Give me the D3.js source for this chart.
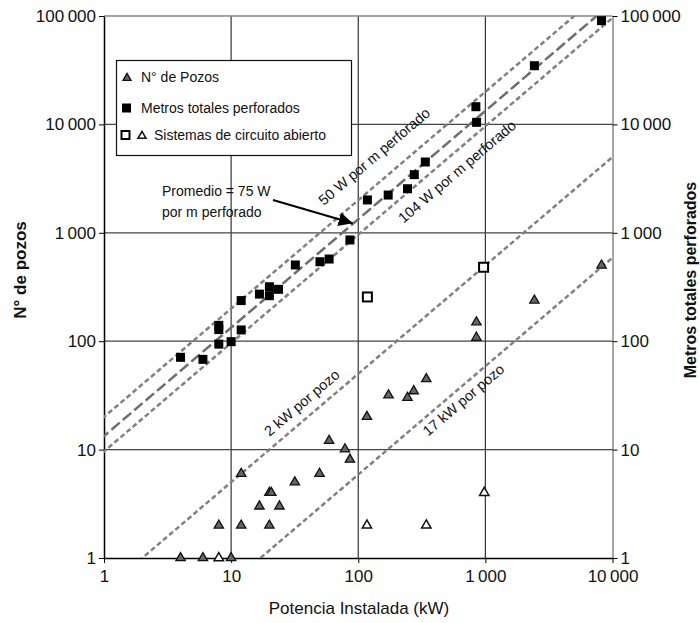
<!DOCTYPE html>
<html>
<head>
<meta charset="utf-8">
<script src="https://cdn.jsdelivr.net/npm/d3@7"></script>
<style>
  body { margin: 0; background: #fff; }
  svg { font-family: Arial, "Liberation Sans", sans-serif; }
</style>
</head>
<body>
<svg id="chart" width="700" height="623"></svg>
<script>
// --- datos ---
// Metros totales perforados (cuadrados negros)
var potMetros = [4, 6, 8, 8, 8, 10, 12, 12, 16.7, 20, 20, 23.6, 32, 50, 59, 86, 118, 172, 244, 276, 337, 842, 853, 2430, 8200];
var metros    = [71, 68, 94, 128, 140, 99, 127, 237, 272, 318, 263, 301, 505, 541, 573, 859, 2010, 2230, 2550, 3440, 4500, 14560, 10450, 34800, 90600];

// N° de pozos (triangulos grises)
var potPozos = [4, 6, 10, 8, 12, 20, 16.7, 24, 20, 20.7, 31.7, 12, 49.6, 86, 78.6, 59, 117, 173, 244, 273, 343, 850, 850, 2430, 8200];
var pozos    = [1, 1, 1, 2, 2, 2, 3, 3, 4, 4, 5, 6, 6, 8.1, 10.1, 12.1, 20.1, 31.8, 30.1, 34.7, 44.8, 108, 150, 238, 500];

// sistemas de circuito abierto
var potAbiertoMetros = [118, 968];
var abiertoMetros    = [256, 481];
var potAbiertoPozos  = [8, 117, 343, 980];
var abiertoPozos     = [1, 2, 2, 4];

// rectas de referencia: valor = k * potencia(kW)
var refK      = [20, 1000 / 75, 1000 / 104, 1 / 2, 1 / 17];
var refLabels = ["50 W por m perforado", "", "104 W por m perforado", "2 kW por pozo", "17 kW por pozo"];

var ticks = [1, 10, 100, 1000, 10000, 100000];

// --- escalas ---
var svg = d3.select("#chart");
var x = d3.scaleLog().domain([1, 10000]).range([104, 612.5]);
var y = d3.scaleLog().domain([1, 100000]).range([558, 16]);

function fmt(d) { return d3.format(",")(d).replace(/,/g, "\u2009"); }

svg.append("defs").append("clipPath").attr("id", "plot")
  .append("rect")
    .attr("x", x(1)).attr("y", y(100000))
    .attr("width", x(10000) - x(1)).attr("height", y(1) - y(100000));

// rejilla
svg.append("g").selectAll("line")
  .data(ticks.filter(function(d){ return d > 1 && d < 10000; }))
  .join("line")
    .attr("x1", d => x(d)).attr("x2", d => x(d))
    .attr("y1", y(1)).attr("y2", y(100000))
    .attr("stroke", "#333").attr("stroke-width", 1.2);

svg.append("g").selectAll("line")
  .data(ticks.filter(function(d){ return d > 1 && d < 100000; }))
  .join("line")
    .attr("x1", x(1)).attr("x2", x(10000))
    .attr("y1", d => y(d)).attr("y2", d => y(d))
    .attr("stroke", "#444").attr("stroke-width", 1.2);

// borde superior (gris)
svg.append("line")
  .attr("x1", x(1)).attr("x2", x(10000)).attr("y1", y(100000)).attr("y2", y(100000))
  .attr("stroke", "#888").attr("stroke-width", 1.5);

// ejes
var axL = svg.append("g").attr("transform", "translate(" + x(1) + ",0)")
  .call(d3.axisLeft(y).tickValues(ticks).tickFormat(fmt).tickSize(5).tickSizeOuter(0));
var axR = svg.append("g").attr("transform", "translate(" + x(10000) + ",0)")
  .call(d3.axisRight(y).tickValues(ticks).tickFormat(fmt).tickSize(5).tickSizeOuter(0));
var axB = svg.append("g").attr("transform", "translate(0," + y(1) + ")")
  .call(d3.axisBottom(x).tickValues(ticks.slice(0, 5)).tickFormat(fmt).tickSize(5).tickSizeOuter(0));

[axL, axR, axB].forEach(function(a){
  a.selectAll("text").attr("font-size", 17).attr("fill", "#111").style("font-family", "Arial, 'Liberation Sans', sans-serif");
  a.select(".domain").attr("stroke-width", 1.5);
});
axL.selectAll("text").attr("x", -8);
axR.selectAll("text").attr("x", 8);
axR.select(".domain").attr("stroke", "#888");
axB.selectAll("text").attr("y", 12);

// rectas de referencia
var line = d3.line().x(d => x(d[0])).y(d => y(d[1]));
svg.append("g").attr("clip-path", "url(#plot)")
  .selectAll("path")
  .data(refK)
  .join("path")
    .attr("d", k => line([[0.5, 0.5 * k], [20000, 20000 * k]]))
    .attr("fill", "none")
    .attr("stroke", (k, i) => i == 1 ? "#6e6e6e" : "#808080")
    .attr("stroke-width", 2.5)
    .attr("stroke-dasharray", (k, i) => i == 1 ? "11,4" : "5,3");

// etiquetas de las rectas (posicion sobre la recta + desplazamiento perpendicular)
var ang = Math.atan2(y(10) - y(1), x(10) - x(1)) * 180 / Math.PI;
var labPot = [175, 0, 496, 42.7, 587];
var labOff = [-23, 0, 16, -14.6, 11.4];
svg.append("g").selectAll("text")
  .data([0, 2, 3, 4])
  .join("text")
    .attr("transform", i => "translate(" + x(labPot[i]) + "," + y(labPot[i] * refK[i]) + ") rotate(" + ang + ")")
    .attr("y", i => labOff[i])
    .attr("dy", "0.35em")
    .attr("text-anchor", "middle")
    .attr("font-size", 14.5)
    .attr("fill", "#111")
    .text(i => refLabels[i]);

// marcadores
var tri = d3.symbol().type(d3.symbolTriangle).size(38);

svg.append("g").selectAll("path")
  .data(potPozos)
  .join("path")
    .attr("d", tri)
    .attr("transform", (d, i) => "translate(" + x(d) + "," + y(pozos[i]) + ")")
    .attr("fill", "#666").attr("stroke", "#111").attr("stroke-width", 1.3);

svg.append("g").selectAll("path")
  .data(potAbiertoPozos)
  .join("path")
    .attr("d", tri)
    .attr("transform", (d, i) => "translate(" + x(d) + "," + y(abiertoPozos[i]) + ")")
    .attr("fill", "#fff").attr("stroke", "#111").attr("stroke-width", 1.5);

svg.append("g").selectAll("rect")
  .data(potMetros)
  .join("rect")
    .attr("x", d => x(d) - 4.5)
    .attr("y", (d, i) => y(metros[i]) - 4.5)
    .attr("width", 9).attr("height", 9)
    .attr("fill", "#000");

svg.append("g").selectAll("rect")
  .data(potAbiertoMetros)
  .join("rect")
    .attr("x", d => x(d) - 4.5)
    .attr("y", (d, i) => y(abiertoMetros[i]) - 4.5)
    .attr("width", 9).attr("height", 9)
    .attr("fill", "#fff").attr("stroke", "#000").attr("stroke-width", 2);

// leyenda
var leg = svg.append("g");
leg.append("rect").attr("x", 116.5).attr("y", 60.5).attr("width", 235).attr("height", 95)
  .attr("fill", "#fff").attr("stroke", "#111").attr("stroke-width", 1.2);
var legTri = d3.symbol().type(d3.symbolTriangle).size(28);
leg.append("path").attr("d", legTri).attr("transform", "translate(127,78)")
  .attr("fill", "#666").attr("stroke", "#111").attr("stroke-width", 1.3);
leg.append("rect").attr("x", 122).attr("y", 103.5).attr("width", 9).attr("height", 9).attr("fill", "#000");
leg.append("rect").attr("x", 121.5).attr("y", 131).attr("width", 8).attr("height", 8)
  .attr("fill", "#fff").attr("stroke", "#000").attr("stroke-width", 2);
leg.append("path").attr("d", legTri).attr("transform", "translate(142,136)")
  .attr("fill", "#fff").attr("stroke", "#111").attr("stroke-width", 1.5);
leg.selectAll("text.l")
  .data(["N° de Pozos", "Metros totales perforados", "Sistemas de circuito abierto"])
  .join("text")
    .attr("x", (d, i) => i == 2 ? 154 : 141)
    .attr("y", (d, i) => [82, 113, 140][i])
    .attr("font-size", 14).attr("fill", "#111")
    .text(d => d);

// anotacion promedio
svg.append("defs").append("marker")
  .attr("id", "arr").attr("viewBox", "0 0 10 10").attr("refX", 10).attr("refY", 5)
  .attr("markerWidth", 7).attr("markerHeight", 7).attr("orient", "auto")
  .append("path").attr("d", "M0,0L10,5L0,10z").attr("fill", "#000");
svg.append("text").attr("x", 162).attr("y", 196).attr("font-size", 14).attr("fill", "#111")
  .text("Promedio = 75 W");
svg.append("text").attr("x", 162).attr("y", 217).attr("font-size", 14).attr("fill", "#111")
  .text("por m perforado");
svg.append("line")
  .attr("x1", 273).attr("y1", 200)
  .attr("x2", x(92) - 1).attr("y2", y(92 * refK[1]))
  .attr("stroke", "#000").attr("stroke-width", 2)
  .attr("marker-end", "url(#arr)");

// titulos de ejes
svg.append("text")
  .attr("transform", "translate(26,270) rotate(-90)")
  .attr("text-anchor", "middle").attr("font-size", 17).attr("font-weight", "bold").attr("fill", "#111")
  .text("N° de pozos");
svg.append("text")
  .attr("transform", "translate(696,280) rotate(-90)")
  .attr("text-anchor", "middle").attr("font-size", 16).attr("font-weight", "bold").attr("fill", "#111")
  .text("Metros totales perforados");
svg.append("text")
  .attr("x", 359).attr("y", 614)
  .attr("text-anchor", "middle").attr("font-size", 17).attr("fill", "#111")
  .text("Potencia Instalada (kW)");
</script>
</body>
</html>
